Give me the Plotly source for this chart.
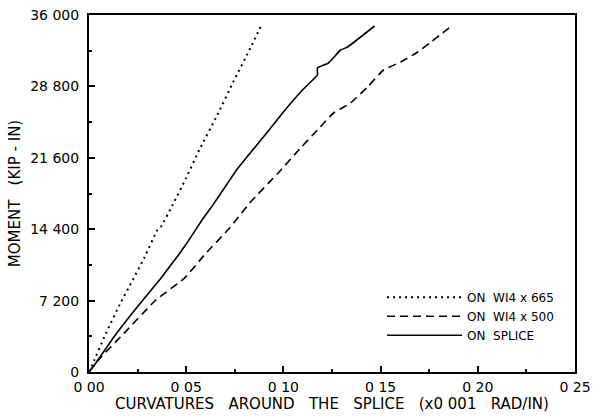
import plotly.graph_objects as go

# W14x665 (dotted)
x_665 = [0.0, 0.0026, 0.0086, 0.0163, 0.0223, 0.0284, 0.0352, 0.0370, 0.0429, 0.0498, 0.0567,
         0.0660, 0.0742, 0.0830, 0.0887]
y_665 = [0, 1150, 3850, 7000, 9200, 11500, 14320, 14652, 16800, 19500, 22386,
         25916, 29244, 32672, 34991]

# W14x500 (dashed)
x_500 = [0.0, 0.0052, 0.0180, 0.0344, 0.0490, 0.0601, 0.0722, 0.0825, 0.0979, 0.1088,
         0.1175, 0.1258, 0.1345, 0.1433, 0.1515, 0.1603, 0.1691, 0.1871]
y_500 = [0, 1300, 3900, 7260, 9449, 11970, 14491, 17012, 20198, 22588,
         24403, 26118, 27126, 28740, 30454, 31260, 32269, 34991]

# Splice (solid)
x_spl = [0.0, 0.0035, 0.0129, 0.0249, 0.0370, 0.0421, 0.0464, 0.0507, 0.0584, 0.0636, 0.0705,
         0.0756, 0.0842, 0.0918, 0.1000, 0.1098, 0.1175, 0.1175, 0.1232, 0.1294, 0.1330, 0.1469]
y_spl = [0, 900, 3560, 6585, 9449, 10790, 11900, 13100, 15400, 16800, 18800,
         20300, 22386, 24202, 26218, 28437, 29950, 30655, 31160, 32470, 32773, 34891]

x_tickvals = [0, 0.05, 0.10, 0.15, 0.20, 0.25]
x_ticktext = ["0 00", "0 05", "0 10", "0 15", "0 20", "0 25"]
y_tickvals = [0, 7200, 14400, 21600, 28800, 36000]
y_ticktext = ["0", "7 200", "14 400", "21 600", "28 800", "36 000"]

FONT = "DejaVu Sans"

fig = go.Figure()
fig.add_trace(go.Scatter(x=x_665, y=y_665, mode="lines", name="ON  WI4 x 665",
                         line=dict(color="black", width=2, dash="2px,4px", shape="spline", smoothing=0.5)))
fig.add_trace(go.Scatter(x=x_500, y=y_500, mode="lines", name="ON  WI4 x 500",
                         line=dict(color="black", width=1.6, dash="8px,5px", shape="spline", smoothing=0.5)))
fig.add_trace(go.Scatter(x=x_spl, y=y_spl, mode="lines", name="ON  SPLICE",
                         line=dict(color="black", width=1.6, shape="spline", smoothing=0.3)))

axis_common = dict(showline=True, linecolor="black", linewidth=2, mirror=True,
                   ticks="inside", ticklen=6, tickwidth=1.5, tickcolor="black",
                   showgrid=False, zeroline=False, automargin=False,
                   tickfont=dict(family=FONT, size=14, color="black"))

fig.update_xaxes(range=[0, 0.25], tickvals=x_tickvals, ticktext=x_ticktext,
                 ticklabelstandoff=1,
                 minor=dict(dtick=0.025, ticks="inside", ticklen=3, tickcolor="black", tickwidth=1.5),
                 title=dict(text="CURVATURES   AROUND   THE   SPLICE   (x0 001   RAD/IN)",
                            font=dict(family=FONT, size=15, color="black"), standoff=3),
                 **axis_common)
fig.update_yaxes(range=[0, 36000], tickvals=y_tickvals, ticktext=y_ticktext,
                 ticklabelstandoff=5,
                 minor=dict(dtick=3600, ticks="inside", ticklen=3, tickcolor="black", tickwidth=1.5),
                 title=dict(text="MOMENT   (KIP - IN)",
                            font=dict(family=FONT, size=15, color="black"), standoff=6),
                 **axis_common)

fig.update_layout(
    width=595, height=416,
    margin=dict(l=89, r=20, t=15, b=44),
    paper_bgcolor="white", plot_bgcolor="white",
    showlegend=True,
    legend=dict(x=0.603, y=0.25, xanchor="left", yanchor="top",
                bgcolor="rgba(0,0,0,0)", itemwidth=75,
                font=dict(family=FONT, size=12, color="black"),
                tracegroupgap=0),
)

fig.write_html("out.html")
